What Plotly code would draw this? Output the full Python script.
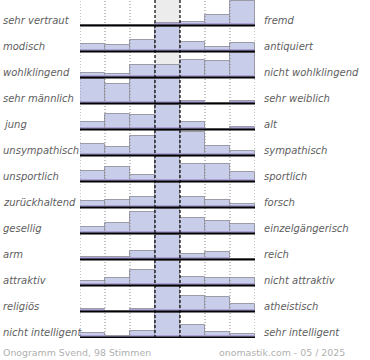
import plotly.graph_objects as go

left_labels = ["sehr vertraut", "modisch", "wohlklingend", "sehr männlich", "jung",
               "unsympathisch", "unsportlich", "zurückhaltend", "gesellig", "arm",
               "attraktiv", "religiös", "nicht intelligent"]
right_labels = ["fremd", "antiquiert", "nicht wohlklingend", "sehr weiblich", "alt",
                "sympathisch", "sportlich", "forsch", "einzelgängerisch", "reich",
                "nicht attraktiv", "atheistisch", "sehr intelligent"]

# relative bar heights per row (percent of the row's largest column), 7 scale steps
row_values = [
    [0, 0, 0, 7, 14, 42, 100],
    [29, 24, 45, 100, 38, 15, 32],
    [17, 11, 49, 50, 71, 65, 100],
    [100, 78, 100, 100, 10, 0, 10],
    [28, 61, 60, 100, 28, 0, 7],
    [45, 32, 78, 100, 96, 39, 18],
    [40, 58, 23, 100, 71, 71, 36],
    [25, 29, 42, 100, 42, 29, 14],
    [25, 40, 86, 100, 61, 48, 36],
    [7, 7, 32, 100, 21, 28, 0],
    [15, 29, 63, 100, 32, 28, 28],
    [10, 0, 7, 100, 63, 60, 30],
    [17, 4, 25, 100, 49, 20, 11],
]

footer_left = "Onogramm Svend, 98 Stimmen"
footer_right = "onomastik.com - 05 / 2025"

n_rows = len(row_values)
n_cols = 7
ROW_PX = 26.0
FULL = 24.0 / ROW_PX      # full bar height in row units
BAND = 2.0 / ROW_PX       # darker bottom band
y0 = -1.0 / ROW_PX

xs, ys, bases, band_y = [], [], [], []
for i, vals in enumerate(row_values):
    base = (n_rows - 1) - i
    for j, v in enumerate(vals):
        h = v / 100.0 * FULL
        xs.append(j + 0.5)
        ys.append(h)
        bases.append(base)
        band_y.append(min(h, BAND))

fig = go.Figure()
fig.add_trace(go.Bar(x=xs, y=ys, base=bases, width=1,
                     marker=dict(color="#c8cdea", line=dict(color="#9c9ca8", width=1)),
                     hoverinfo="skip"))
fig.add_trace(go.Bar(x=xs, y=band_y, base=bases, width=1,
                     marker=dict(color="#ac a2d6".replace(" ", ""), line=dict(width=0)),
                     hoverinfo="skip"))

shapes = []
ytop = y0 + n_rows
# center column background
shapes.append(dict(type="rect", xref="x", yref="y", x0=3, x1=4, y0=y0, y1=ytop,
                   fillcolor="#ececec", line=dict(width=0), layer="below"))
for k in [0, 1, 2, 5, 6, 7]:
    shapes.append(dict(type="line", xref="x", yref="y", x0=k, x1=k, y0=y0, y1=ytop,
                       line=dict(color="#888888", width=1, dash="1px,2px"), layer="above"))
for k in [3, 4]:
    shapes.append(dict(type="line", xref="x", yref="y", x0=k, x1=k, y0=y0, y1=ytop,
                       line=dict(color="#000000", width=1.2, dash="3px,2px"), layer="above"))
for i in range(n_rows):
    b = (n_rows - 1) - i
    shapes.append(dict(type="line", xref="x", yref="y", x0=0, x1=n_cols, y0=b - 0.02, y1=b - 0.02,
                       line=dict(color="#000000", width=2), layer="above"))

annotations = []
font_lab = dict(family="DejaVu Sans", size=10, color="#5e5e5e")
for i in range(n_rows):
    b = (n_rows - 1) - i
    annotations.append(dict(xref="paper", yref="y", x=-79 / 175, y=b + 5 / ROW_PX,
                            text="<i>%s</i>" % left_labels[i], showarrow=False,
                            xanchor="left", yanchor="middle", font=font_lab))
    annotations.append(dict(xref="paper", yref="y", x=(262 - 80) / 175, y=b + 5 / ROW_PX,
                            text="<i>%s</i>" % right_labels[i], showarrow=False,
                            xanchor="left", yanchor="middle", font=font_lab))
font_foot = dict(family="DejaVu Sans", size=9.4, color="#b0b0b0")
annotations.append(dict(xref="paper", yref="paper", x=-79 / 175, y=-14 / 338, text=footer_left,
                        showarrow=False, xanchor="left", yanchor="middle", font=font_foot))
annotations.append(dict(xref="paper", yref="paper", x=(347 - 80) / 175, y=-14 / 338, text=footer_right,
                        showarrow=False, xanchor="right", yanchor="middle", font=font_foot))

fig.update_layout(
    width=370, height=360,
    margin=dict(l=80, r=115, t=0, b=22, pad=0),
    barmode="overlay",
    showlegend=False,
    paper_bgcolor="white", plot_bgcolor="white",
    xaxis=dict(range=[0, n_cols], visible=False, fixedrange=True),
    yaxis=dict(range=[y0, ytop], visible=False, fixedrange=True),
    shapes=shapes, annotations=annotations,
    bargap=0,
)
fig.write_html("out.html", config=dict(displayModeBar=False),
               post_script="document.body.style.margin='0';document.body.style.overflow='hidden';")
